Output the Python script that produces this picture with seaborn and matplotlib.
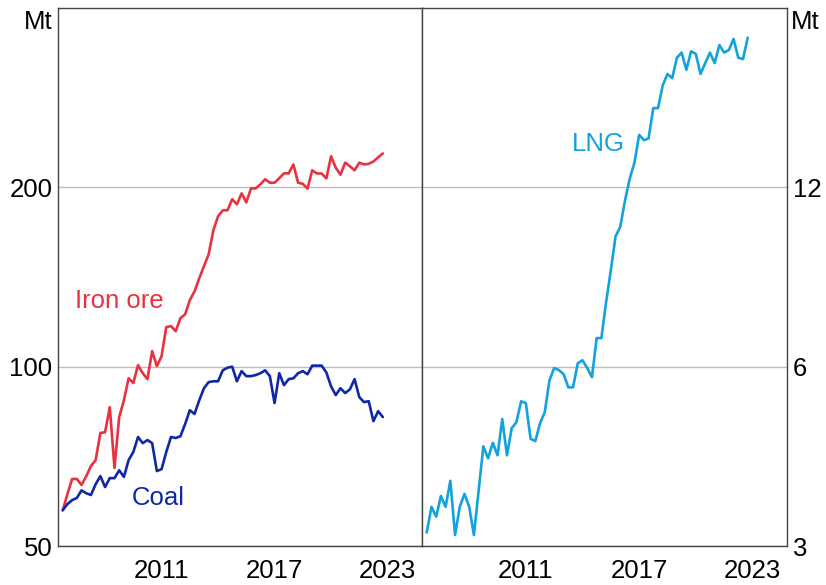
import numpy as np
import pandas as pd
import seaborn as sns
import matplotlib.pyplot as plt
from matplotlib.ticker import FixedLocator, FixedFormatter, NullLocator

# quarterly observations, 2006 Q1 .. 2023 Q1 (decimal years)
quarters = 2006.25 + np.arange(69) * 0.25

# Mt
iron_ore = [57.4, 61.1, 64.8, 64.8, 63.3, 65.5, 68.1, 69.7, 77.4, 77.6,
            85.5, 67.6, 82.3, 87.8, 95.6, 93.9, 100.6, 97.5, 95.3, 106.2,
            100.2, 104.1, 116.5, 117.0, 114.7, 120.6, 122.4, 129.3, 133.8, 140.7,
            147.4, 154.4, 169.4, 178.8, 183.0, 183.0, 191.0, 187.3, 195.4, 188.7,
            199.2, 199.2, 202.4, 206.3, 203.6, 203.6, 207.2, 211.1, 211.1, 218.5,
            203.6, 202.7, 199.0, 213.6, 211.0, 211.0, 207.0, 225.5, 215.8, 210.0,
            220.0, 217.0, 213.6, 220.0, 218.5, 219.0, 221.0, 224.6, 228.0]

coal = [57.4, 58.8, 59.7, 60.2, 62.0, 61.3, 60.9, 63.5, 65.5, 62.8,
        65.0, 65.0, 67.0, 65.3, 69.7, 71.9, 76.2, 74.4, 75.3, 74.4,
        66.8, 67.3, 71.9, 76.2, 75.9, 76.4, 80.1, 84.5, 83.3, 87.8,
        92.0, 94.2, 94.5, 94.5, 98.6, 99.6, 100.0, 94.5, 98.3, 96.4,
        96.4, 96.8, 97.5, 98.6, 96.4, 86.9, 97.5, 93.1, 95.3, 95.6,
        97.5, 98.3, 97.1, 100.4, 100.4, 100.4, 97.8, 92.7, 89.6, 92.0,
        90.3, 91.6, 95.3, 88.9, 87.2, 87.5, 81.0, 84.2, 82.3]

lng = [3.16, 3.49, 3.36, 3.64, 3.49, 3.86, 3.13, 3.49, 3.67, 3.49,
       3.13, 3.72, 4.41, 4.21, 4.47, 4.26, 4.90, 4.26, 4.73, 4.84,
       5.25, 5.21, 4.54, 4.50, 4.82, 5.03, 5.69, 5.97, 5.92, 5.83,
       5.54, 5.54, 6.08, 6.15, 5.97, 5.76, 6.70, 6.70, 7.70, 8.71,
       9.93, 10.3, 11.4, 12.4, 13.2, 14.7, 14.4, 14.5, 16.3, 16.3,
       17.8, 18.6, 18.3, 19.8, 20.2, 18.9, 20.3, 20.1, 18.6, 19.4,
       20.2, 19.4, 20.8, 20.2, 20.4, 21.3, 19.8, 19.7, 21.4]

df = pd.DataFrame({'date': quarters, 'Iron ore': iron_ore,
                   'Coal': coal, 'LNG': lng})

red = '#e8323f'
navy = '#1028a8'
sky = '#12a2dc'

sns.set_style('white')
plt.rcParams['font.family'] = ['Liberation Sans', 'DejaVu Sans']

fig = plt.figure(figsize=(8.26, 5.85), dpi=100)
ax1 = fig.add_axes([58 / 826, 1 - 546 / 585, 364 / 826, 538 / 585])
ax2 = fig.add_axes([422 / 826, 1 - 546 / 585, 365 / 826, 538 / 585])

sns.lineplot(data=df, x='date', y='Iron ore', ax=ax1, color=red, linewidth=1.9)
sns.lineplot(data=df, x='date', y='Coal', ax=ax1, color=navy, linewidth=1.9)
sns.lineplot(data=df, x='date', y='LNG', ax=ax2, color=sky, linewidth=1.9)

year_starts = list(range(2006, 2026))
label_years = [2011, 2017, 2023]

for ax, lo, ticks in [(ax1, 50, [50, 100, 200]), (ax2, 3, [3, 6, 12])]:
    ax.set_yscale('log')
    ax.set_ylim(lo, lo * 8)
    ax.yaxis.set_major_locator(FixedLocator(ticks))
    ax.yaxis.set_major_formatter(FixedFormatter([str(t) for t in ticks]))
    ax.yaxis.set_minor_locator(NullLocator())
    ax.set_xlim(2006, 2025.33)
    ax.xaxis.set_major_locator(FixedLocator([y + 0.5 for y in label_years]))
    ax.xaxis.set_major_formatter(FixedFormatter([str(y) for y in label_years]))
    ax.xaxis.set_minor_locator(FixedLocator(year_starts))
    ax.tick_params(axis='x', which='major', length=0, pad=9, labelsize=18.5,
                   labelcolor='black')
    ax.tick_params(axis='x', which='minor', direction='in', length=10,
                   width=1, color='#333333')
    ax.tick_params(axis='y', length=0, labelsize=18.5, pad=4, labelcolor='black')
    ax.grid(axis='y', which='major', color='#bdbdbd', linewidth=1)
    ax.grid(axis='x', visible=False)
    ax.set_xlabel('')
    ax.set_ylabel('')
    for s in ax.spines.values():
        s.set_visible(True)
        s.set_color('#444444')
        s.set_linewidth(1)

ax2.yaxis.tick_right()
ax2.tick_params(axis='y', labelright=True, labelleft=False)

# series labels
ax1.text(2009.24, 129, 'Iron ore', color=red, fontsize=18.5, ha='center', va='center')
ax1.text(2011.3, 60.2, 'Coal', color=navy, fontsize=18.5, ha='center', va='center')
ax2.text(2015.35, 14.2, 'LNG', color=sky, fontsize=18.5, ha='center', va='center')

# units
fig.text(53 / 826, 1 - 22 / 585, 'Mt', fontsize=18.5, ha='right', va='center', color='black')
fig.text(791 / 826, 1 - 22 / 585, 'Mt', fontsize=18.5, ha='left', va='center', color='black')

fig.savefig('out.png', dpi=100)
